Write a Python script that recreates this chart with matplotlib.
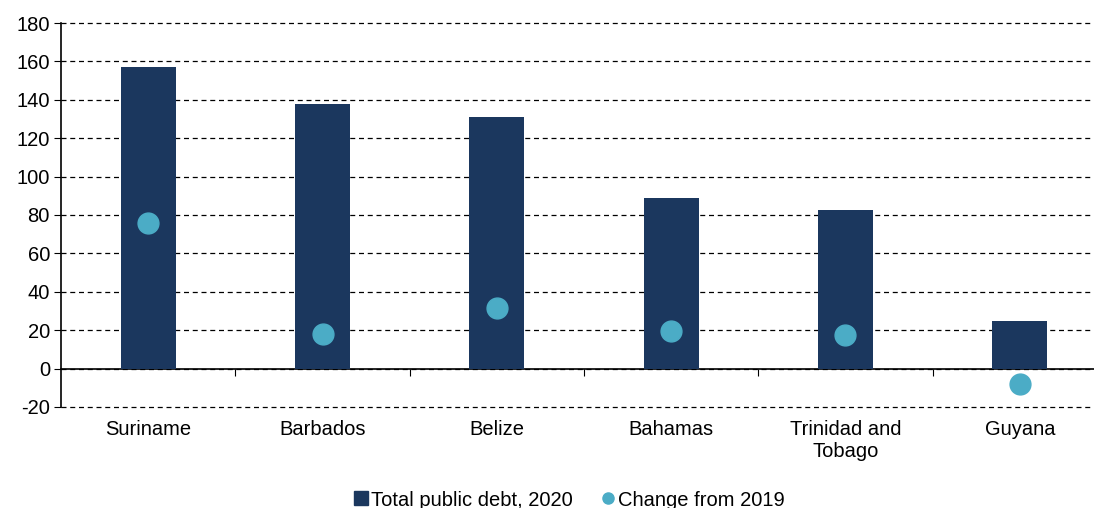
import numpy as np
import matplotlib.pyplot as plt
from matplotlib.lines import Line2D
import matplotlib.transforms as mtransforms

plt.rcParams['font.family'] = ['Liberation Sans', 'DejaVu Sans']
plt.rcParams['axes.unicode_minus'] = False

countries = ["Suriname", "Barbados", "Belize", "Bahamas", "Trinidad and\nTobago", "Guyana"]
debt_2020 = [157.1, 137.8, 131.0, 88.9, 82.5, 24.8]
change_2019 = [75.8, 18.0, 31.5, 19.6, 17.5, -8.0]

NAVY = "#1B375E"
TEAL = "#4BACC6"

fig = plt.figure(figsize=(10.94, 5.08), dpi=100)
ax = fig.add_axes([61 / 1094, 1 - 407 / 508, 1046 / 1094, 384 / 508])

x = np.arange(len(countries))
ax.bar(x, debt_2020, width=0.315, color=NAVY, zorder=3)
ax.plot(x, change_2019, "o", color=TEAL, markersize=15, zorder=4)

ax.set_xlim(-0.5, len(countries) - 0.5)
ax.set_ylim(-20, 180)
ax.set_yticks(np.arange(-20, 181, 20))
ax.tick_params(axis="y", labelsize=14.5, length=5, pad=3, direction="out", colors="black")
ax.yaxis.grid(True, linestyle=(0, (4, 3)), color="black", linewidth=0.9)
for gl in ax.get_ygridlines():
    gl.set_clip_on(False)
ax.set_axisbelow(True)

for s in ["top", "right"]:
    ax.spines[s].set_visible(False)
ax.spines["bottom"].set_position(("data", 0))
ax.spines["bottom"].set_linewidth(1.2)
ax.spines["left"].set_linewidth(1.2)
ax.set_xticks(x[:-1] + 0.5)
ax.set_xticklabels([])
ax.tick_params(axis="x", length=5, direction="out")

trans = mtransforms.blended_transform_factory(ax.transData, ax.transAxes)
for xi, name in zip(x, countries):
    ax.text(xi, -0.035, name, transform=trans, ha="center", va="top", fontsize=14.5,
            linespacing=1.15)

handles = [
    Line2D([], [], marker="s", linestyle="none", color=NAVY, markersize=10),
    Line2D([], [], marker="o", linestyle="none", color=TEAL, markersize=8),
]
fig.legend(handles, ["Total public debt, 2020", "Change from 2019"], loc="center",
           bbox_to_anchor=(568 / 1094, 1 - 500 / 508), ncol=2, frameon=False,
           fontsize=14.5, handletextpad=0.05, columnspacing=1.3, handlelength=0.9)

fig.savefig("out.png", dpi=100)
